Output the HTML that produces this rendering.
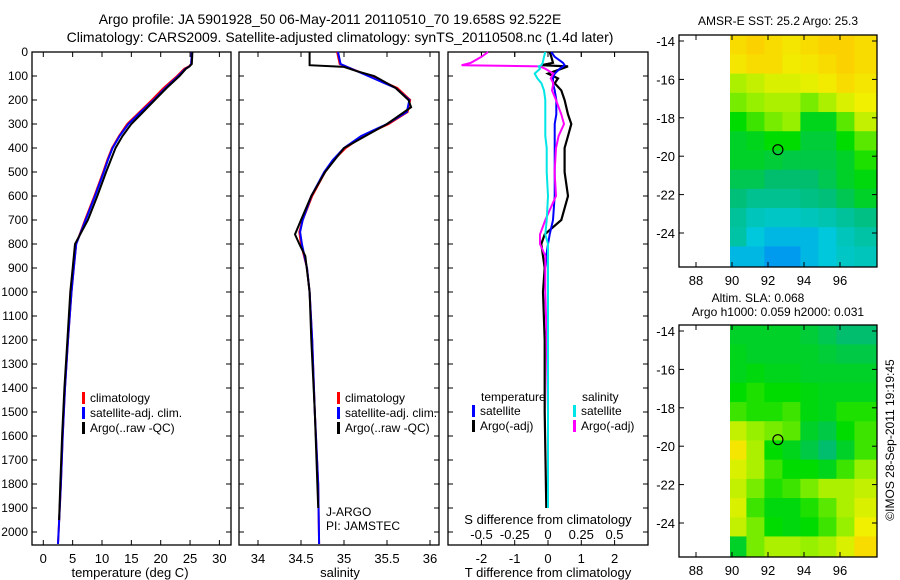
<!DOCTYPE html>
<html><head><meta charset="utf-8"><style>
body{margin:0;background:#fff;}
svg{display:block;font-family:"Liberation Sans",sans-serif;}
</style></head><body>
<svg id="c" width="900" height="580" xmlns="http://www.w3.org/2000/svg"></svg>
<script>
// ---------- data ----------
const depthTicks=[0,100,200,300,400,500,600,700,800,900,1000,1100,1200,1300,1400,1500,1600,1700,1800,1900,2000];
const tempTicks=[0,5,10,15,20,25,30];
const salTicks=[34,34.5,35,35.5,36];
const tdTicks=[-2,-1,0,1,2];
const sdTicks=[-0.5,-0.25,0,0.25,0.5];
const sdTickLabels=["-0.5","-0.25","0","0.25","0.5"];

const tClimDepth=[0,50,60,70,100,150,200,250,300,350,400,450,500,600,700,800,900,1000,1200,1400,1600,1800,2000,2050];
const tClim=[25.3,25.2,24.8,24.0,22.8,20.5,18.5,16.4,14.3,12.9,11.7,10.9,10.2,8.7,7.1,5.6,5.2,4.8,4.2,3.7,3.3,3.0,2.6,2.5];
const tSat=[25.3,25.2,24.9,24.2,23.0,20.8,18.8,16.6,14.5,13.0,11.8,11.0,10.3,8.8,7.2,5.6,5.2,4.8,4.2,3.7,3.3,3.0,2.6,2.5];
const tArgoDepth=[0,50,60,70,100,150,200,250,300,350,400,450,500,600,700,800,900,1000,1200,1400,1600,1800,1950];
const tArgo=[25.4,25.3,24.9,24.3,23.2,21.0,19.0,17.0,15.0,13.5,12.3,11.5,10.7,9.2,7.6,5.4,5.0,4.6,4.1,3.6,3.2,2.9,2.7];

const sClimDepth=[0,50,100,150,200,250,300,350,400,450,500,600,700,750,800,900,1000,1200,1500,1800,2050];
const sClim=[34.92,34.95,35.3,35.62,35.77,35.74,35.52,35.22,35.02,34.88,34.78,34.63,34.52,34.48,34.5,34.57,34.6,34.63,34.66,34.7,34.71];
const sSat=[34.93,34.96,35.28,35.6,35.76,35.73,35.5,35.2,35.0,34.87,34.77,34.62,34.52,34.49,34.51,34.57,34.6,34.63,34.66,34.7,34.71];
const sArgoDepth=[0,55,62,80,100,150,200,230,300,400,500,600,700,760,800,850,1000,1200,1500,1900];
const sArgo=[34.6,34.6,35.0,35.15,35.35,35.6,35.75,35.78,35.5,35.0,34.78,34.62,34.5,34.43,34.48,34.55,34.6,34.62,34.66,34.7];

const dDepth=[0,20,45,55,60,70,90,110,130,160,200,260,300,350,400,500,600,700,760,800,850,900,1000,1200,1500,1900];
const dTSat=[0.1,0.2,0.45,0.5,0.45,0.35,0.2,0.15,0.15,0.2,0.25,0.25,0.2,0.2,0.2,0.2,0.2,0.15,0.05,0.0,-0.05,0.0,0.0,0.0,0.0,0.0];
const dTArgo=[0.05,0.1,0.15,-0.2,0.6,0.4,0.0,0.3,0.2,0.4,0.5,0.6,0.7,0.6,0.5,0.5,0.6,0.4,-0.1,-0.2,-0.15,-0.1,-0.15,-0.1,-0.1,-0.05];
const dSSat=[-0.02,-0.03,-0.04,-0.05,-0.07,-0.06,-0.1,-0.08,-0.05,-0.03,-0.02,-0.02,-0.02,-0.02,-0.01,-0.01,0.0,-0.01,-0.02,0.0,0.0,0.0,0.0,0.0,0.0,0.0];
const dSArgo=[-0.45,-0.5,-0.58,-0.65,-0.06,-0.02,0.04,0.02,0.04,0.03,0.06,0.1,0.12,0.08,0.06,0.05,0.06,-0.02,-0.06,-0.06,-0.02,-0.02,-0.02,-0.01,0.0,0.0];

const mapLons=[90,91,92,93,94,95,96,97];
const mapLats=[-14,-15,-16,-17,-18,-19,-20,-21,-22,-23,-24,-25];
const sst=[
[0.8,0.82,0.8,0.78,0.8,0.82,0.82,0.8],
[0.78,0.8,0.8,0.77,0.78,0.8,0.82,0.8],
[0.7,0.72,0.74,0.74,0.75,0.77,0.8,0.78],
[0.66,0.68,0.7,0.7,0.66,0.7,0.74,0.76],
[0.58,0.62,0.66,0.68,0.56,0.56,0.64,0.72],
[0.55,0.56,0.58,0.58,0.54,0.54,0.58,0.64],
[0.55,0.55,0.54,0.53,0.53,0.53,0.55,0.6],
[0.52,0.52,0.5,0.5,0.5,0.52,0.55,0.57],
[0.49,0.47,0.47,0.47,0.48,0.49,0.52,0.55],
[0.46,0.43,0.42,0.42,0.43,0.44,0.46,0.48],
[0.45,0.4,0.38,0.38,0.38,0.4,0.43,0.45],
[0.38,0.38,0.35,0.35,0.38,0.4,0.42,0.43]];
const sla=[
[0.55,0.55,0.55,0.55,0.54,0.52,0.5,0.5],
[0.56,0.55,0.55,0.55,0.55,0.54,0.53,0.53],
[0.56,0.57,0.56,0.56,0.55,0.55,0.55,0.55],
[0.58,0.6,0.58,0.58,0.57,0.56,0.56,0.56],
[0.62,0.6,0.6,0.62,0.57,0.56,0.6,0.6],
[0.72,0.68,0.66,0.64,0.55,0.53,0.58,0.62],
[0.78,0.7,0.58,0.56,0.53,0.5,0.55,0.62],
[0.74,0.7,0.62,0.58,0.58,0.56,0.62,0.68],
[0.72,0.66,0.6,0.62,0.66,0.7,0.7,0.72],
[0.74,0.62,0.57,0.57,0.6,0.64,0.7,0.74],
[0.72,0.66,0.58,0.57,0.58,0.62,0.68,0.76],
[0.55,0.66,0.7,0.7,0.68,0.7,0.74,0.8]];
const floatLon=92.55, floatLat=-19.66;
const lonTicks=[88,90,92,94,96];
const latTicks=[-14,-16,-18,-20,-22,-24];

// ---------- helpers ----------
const svg=document.getElementById('c');
const NS="http://www.w3.org/2000/svg";
function mk(tag,attrs,parent){const e=document.createElementNS(NS,tag);for(const k in attrs)e.setAttribute(k,attrs[k]);(parent||svg).appendChild(e);return e;}
function txt(s,x,y,anchor,size,name,parent,extra){const t=mk('text',Object.assign({x:x,y:y,'text-anchor':anchor||'middle','font-size':size||12,fill:'#000'},extra||{}),parent);t.textContent=s;


return t;}
const Y0=52,YS=0.24;
const yD=d=>Y0+d*YS;
const xT=v=>43.3+v*5.87;
const xS=v=>258+(v-34)*86;
const xTD=v=>548+v*33.3;
const xSD=v=>548+v*133;
function box(x1,x2,y1,y2,name){const r=mk('rect',{x:x1,y:y1,width:x2-x1,height:y2-y1,fill:'none',stroke:'#000','stroke-width':1.3});

}
function line(depths,vals,xf,color,w,name){const pts=depths.map((d,i)=>xf(vals[i]).toFixed(1)+','+yD(d).toFixed(1)).join(' ');
const p=mk('polyline',{points:pts,fill:'none',stroke:color,'stroke-width':w||2});

}
function xticks(vals,labels,xf,y1,y2,ly,name){vals.forEach((v,i)=>{const x=xf(v);mk('line',{x1:x,x2:x,y1:y2,y2:y2-5,stroke:'#000'});mk('line',{x1:x,x2:x,y1:y1,y2:y1+5,stroke:'#000'});if(ly)txt(labels[i],x,ly,'middle',13,name);});}

// titles
txt("Argo profile: JA 5901928_50 06-May-2011 20110510_70 19.658S 92.522E",330,24,'middle',14,'title-line-1');
txt("Climatology: CARS2009. Satellite-adjusted climatology: synTS_20110508.nc (1.4d later)",340,42,'middle',14,'title-line-2');

// panel 1 temperature
box(32,231,Y0,545,'temperature-panel');
depthTicks.forEach(d=>{const y=yD(d);mk('line',{x1:32,x2:37,y1:y,y2:y,stroke:'#000'});mk('line',{x1:226,x2:231,y1:y,y2:y,stroke:'#000'});txt(String(d),28,y+4,'end',12,'depth-tick-label');});
xticks(tempTicks,tempTicks.map(String),xT,Y0,545,563,'temperature-tick-label');
txt("temperature (deg C)",130,577,'middle',13,'temperature-axis-title');
line(tClimDepth,tClim,xT,'#ff0000',2,'temperature-climatology-line');
line(tClimDepth,tSat,xT,'#0000ff',2,'temperature-satellite-line');
line(tArgoDepth,tArgo,xT,'#000000',2,'temperature-argo-line');
function legend(x,y,items,prefix){items.forEach((it,i)=>{mk('rect',{x:x,y:y+i*15-10,width:3,height:12,fill:it[1]});txt(it[0],x+8,y+i*15,'start',12,prefix+'-legend-entry');});}
legend(82,402,[["climatology","#ff0000"],["satellite-adj. clim.","#0000ff"],["Argo(..raw -QC)","#000000"]],'temperature');

// panel 2 salinity
box(239,439,Y0,545,'salinity-panel');
depthTicks.forEach(d=>{const y=yD(d);mk('line',{x1:239,x2:244,y1:y,y2:y,stroke:'#000'});mk('line',{x1:434,x2:439,y1:y,y2:y,stroke:'#000'});});
xticks(salTicks,salTicks.map(String),xS,Y0,545,563,'salinity-tick-label');
txt("salinity",340,577,'middle',13,'salinity-axis-title');
line(sClimDepth,sClim,xS,'#ff0000',2,'salinity-climatology-line');
line(sClimDepth,sSat,xS,'#0000ff',2,'salinity-satellite-line');
line(sArgoDepth,sArgo,xS,'#000000',2,'salinity-argo-line');
legend(337,402,[["climatology","#ff0000"],["satellite-adj. clim.","#0000ff"],["Argo(..raw -QC)","#000000"]],'salinity');
txt("J-ARGO",326,516,'start',12,'institution-label');
txt("PI: JAMSTEC",326,530,'start',12,'pi-label');

// panel 3 differences
box(448,648,Y0,545,'difference-panel');
depthTicks.forEach(d=>{const y=yD(d);mk('line',{x1:448,x2:453,y1:y,y2:y,stroke:'#000'});mk('line',{x1:643,x2:648,y1:y,y2:y,stroke:'#000'});});
xticks(tdTicks,tdTicks.map(String),xTD,Y0,545,563,'t-difference-tick-label');
sdTicks.forEach((v,i)=>{const x=xSD(v);mk('line',{x1:x,x2:x,y1:Y0,y2:Y0+5,stroke:'#000'});txt(sdTickLabels[i],x,539,'middle',13,'s-difference-tick-label');});
txt("S difference from climatology",548,524,'middle',13,'s-difference-axis-title');
txt("T difference from climatology",548,577,'middle',13,'t-difference-axis-title');
line(dDepth,dTArgo,xTD,'#000000',2.2,'t-difference-argo-line');
line(dDepth,dTSat,xTD,'#0000ff',2,'t-difference-satellite-line');
line(dDepth,dSArgo,xSD,'#ff00ff',2,'s-difference-argo-line');
line(dDepth,dSSat,xSD,'#00e5e5',2,'s-difference-satellite-line');
txt("temperature",481,401,'start',12,'temperature-legend-header');
txt("salinity",582,401,'start',12,'salinity-legend-header');
legend(472,415,[["satellite","#0000ff"],["Argo(-adj)","#000000"]],'t-difference');
legend(573,415,[["satellite","#00e5e5"],["Argo(-adj)","#ff00ff"]],'s-difference');

// maps
function cmap(v){const stops=[[0.3,[0,110,255]],[0.4,[0,200,220]],[0.5,[0,190,110]],[0.58,[0,220,0]],[0.68,[150,240,0]],[0.76,[240,240,0]],[0.84,[255,200,0]],[0.95,[255,120,0]]];
if(v<=stops[0][0])return 'rgb('+stops[0][1]+')';for(let i=1;i<stops.length;i++){if(v<=stops[i][0]){const a=stops[i-1],b=stops[i],t=(v-a[0])/(b[0]-a[0]);return 'rgb('+a[1].map((c,k)=>Math.round(c+(b[1][k]-c)*t)).join(',')+')';}}return 'rgb('+stops[stops.length-1][1]+')';}
function drawMap(top,vals,name,lat0y){
 const L=679,R=877,B=top+232;
 const xL=lon=>696+(lon-88)*18;
 const yL=lat=>lat0y+(-14-lat)*19.2;
 const g=mk('g',{});
 
 
 vals.forEach((row,r)=>row.forEach((v,c)=>{
  const x1=Math.max(xL(mapLons[c]-0.2),730), x2=(c==mapLons.length-1)?R:xL(mapLons[c]+0.8);
  const y1=(r==0)?top:yL(mapLats[r]+0.3), y2=(r==mapLats.length-1)?B:yL(mapLats[r]-0.7);
  const cell=mk('rect',{x:x1,y:y1,width:x2-x1+0.5,height:y2-y1+0.5,fill:cmap(v)},g);
  
  
 }));
 box(L,R,top,B,name+'-frame');
 lonTicks.forEach(l=>{const x=xL(l);mk('line',{x1:x,x2:x,y1:B,y2:B-5,stroke:'#000'});mk('line',{x1:x,x2:x,y1:top,y2:top+5,stroke:'#000'});txt(String(l),x,B+18,'middle',13,'longitude-tick-label');});
 latTicks.forEach(l=>{const y=yL(l);mk('line',{x1:L,x2:L+5,y1:y,y2:y,stroke:'#000'});mk('line',{x1:R-5,x2:R,y1:y,y2:y,stroke:'#000'});txt(String(l),L-4,y+5,'end',13,'latitude-tick-label');});
 const c=mk('circle',{cx:xL(floatLon),cy:yL(floatLat),r:5,fill:'none',stroke:'#000','stroke-width':1.2});
 
 
}
drawMap(35,sst,'sst-map',41);
drawMap(325,sla,'sla-map',331);
txt("AMSR-E SST: 25.2 Argo: 25.3",778,25,'middle',12,'sst-map-title');
txt("Altim. SLA: 0.068",758,302,'middle',12,'sla-map-title-1');
txt("Argo h1000: 0.059 h2000: 0.031",778,316,'middle',12,'sla-map-title-2');
txt("©IMOS 28-Sep-2011 19:19:45",0,0,'middle',12,'copyright-timestamp',null,{transform:'translate(894,440) rotate(-90)'});
</script>
</body></html>
